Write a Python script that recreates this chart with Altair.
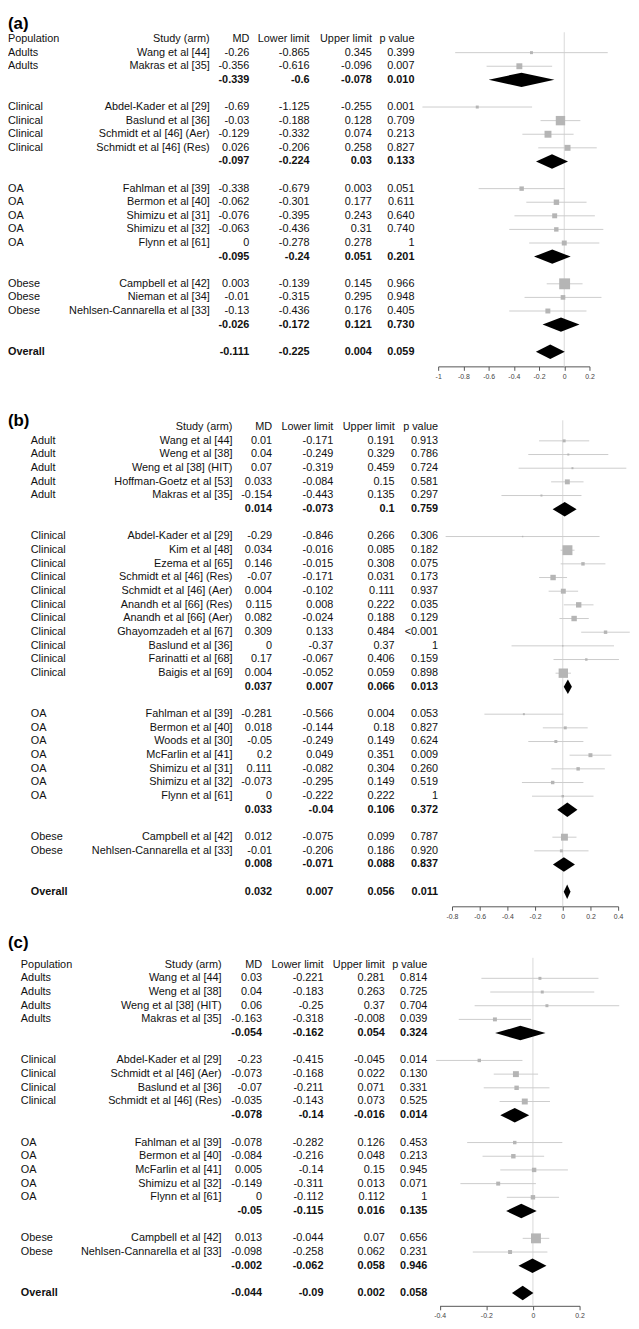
import altair as alt
import pandas as pd

FONT = "Liberation Sans"
TXT = "#111111"
SQ = "#b5b5b5"
CI = "#cccccc"
ZERO = "#d9d9d9"
AX = "#555555"

# ---------------- Panel (a) ----------------
A_POP = ["Adults", "Adults", "Clinical", "Clinical", "Clinical", "Clinical",
         "OA", "OA", "OA", "OA", "OA", "Obese", "Obese", "Obese"]
A_STUDY = ["Wang et al [44]", "Makras et al [35]", "Abdel-Kader et al [29]", "Baslund et al [36]",
           "Schmidt et al [46] (Aer)", "Schmidt et al [46] (Res)", "Fahlman et al [39]",
           "Bermon et al [40]", "Shimizu et al [31]", "Shimizu et al [32]", "Flynn et al [61]",
           "Campbell et al [42]", "Nieman et al [34]", "Nehlsen-Cannarella et al [33]"]
A_MD = ["-0.26", "-0.356", "-0.69", "-0.03", "-0.129", "0.026", "-0.338", "-0.062", "-0.076",
        "-0.063", "0", "0.003", "-0.01", "-0.13"]
A_LO = ["-0.865", "-0.616", "-1.125", "-0.188", "-0.332", "-0.206", "-0.679", "-0.301", "-0.395",
        "-0.436", "-0.278", "-0.139", "-0.315", "-0.436"]
A_HI = ["0.345", "-0.096", "-0.255", "0.128", "0.074", "0.258", "0.003", "0.177", "0.243",
        "0.31", "0.278", "0.145", "0.295", "0.176"]
A_P = ["0.399", "0.007", "0.001", "0.709", "0.213", "0.827", "0.051", "0.611", "0.640",
       "0.740", "1", "0.966", "0.948", "0.405"]
A_W = [9, 36, 9, 90, 49, 36, 20, 30, 25, 20, 25, 121, 22, 25]
A_GROUPS = ["Adults", "Clinical", "OA", "Obese"]
A_POOL_MD = ["-0.339", "-0.097", "-0.095", "-0.026"]
A_POOL_LO = ["-0.6", "-0.224", "-0.24", "-0.172"]
A_POOL_HI = ["-0.078", "0.03", "0.051", "0.121"]
A_POOL_P = ["0.010", "0.133", "0.201", "0.730"]
A_OVERALL = ["-0.111", "-0.225", "0.004", "0.059"]
A_TICKS = [-1, -0.8, -0.6, -0.4, -0.2, 0, 0.2]

# ---------------- Panel (b) ----------------
B_POP = ["Adult"] * 5 + ["Clinical"] * 11 + ["OA"] * 7 + ["Obese"] * 2
B_STUDY = ["Wang et al [44]", "Weng et al [38]", "Weng et al [38] (HIT)", "Hoffman-Goetz et al [53]",
           "Makras et al [35]",
           "Abdel-Kader et al [29]", "Kim et al [48]", "Ezema et al [65]", "Schmidt et al [46] (Res)",
           "Schmidt et al [46] (Aer)", "Anandh et al [66] (Res)", "Anandh et al [66] (Aer)",
           "Ghayomzadeh et al [67]", "Baslund et al [36]", "Farinatti et al [68]", "Baigis et al [69]",
           "Fahlman et al [39]", "Bermon et al [40]", "Woods et al [30]", "McFarlin et al [41]",
           "Shimizu et al [31]", "Shimizu et al [32]", "Flynn et al [61]",
           "Campbell et al [42]", "Nehlsen-Cannarella et al [33]"]
B_MD = ["0.01", "0.04", "0.07", "0.033", "-0.154",
        "-0.29", "0.034", "0.146", "-0.07", "0.004", "0.115", "0.082", "0.309", "0", "0.17", "0.004",
        "-0.281", "0.018", "-0.05", "0.2", "0.111", "-0.073", "0",
        "0.012", "-0.01"]
B_LO = ["-0.171", "-0.249", "-0.319", "-0.084", "-0.443",
        "-0.846", "-0.016", "-0.015", "-0.171", "-0.102", "0.008", "-0.024", "0.133", "-0.37", "-0.067",
        "-0.052",
        "-0.566", "-0.144", "-0.249", "0.049", "-0.082", "-0.295", "-0.222",
        "-0.075", "-0.206"]
B_HI = ["0.191", "0.329", "0.459", "0.15", "0.135",
        "0.266", "0.085", "0.308", "0.031", "0.111", "0.222", "0.188", "0.484", "0.37", "0.406", "0.059",
        "0.004", "0.18", "0.149", "0.351", "0.304", "0.149", "0.222",
        "0.099", "0.186"]
B_P = ["0.913", "0.786", "0.724", "0.581", "0.297",
       "0.306", "0.182", "0.075", "0.173", "0.937", "0.035", "0.129", "<0.001", "1", "0.159", "0.898",
       "0.053", "0.827", "0.624", "0.009", "0.260", "0.519", "1",
       "0.787", "0.920"]
B_W = [9, 4, 4, 25, 4,
       2, 100, 12, 30, 25, 30, 30, 12, 2, 6, 90,
       4, 9, 9, 16, 12, 12, 6,
       49, 9]
B_GROUPS = ["Adult", "Clinical", "OA", "Obese"]
B_POOL_MD = ["0.014", "0.037", "0.033", "0.008"]
B_POOL_LO = ["-0.073", "0.007", "-0.04", "-0.071"]
B_POOL_HI = ["0.1", "0.066", "0.106", "0.088"]
B_POOL_P = ["0.759", "0.013", "0.372", "0.837"]
B_OVERALL = ["0.032", "0.007", "0.056", "0.011"]
B_TICKS = [-0.8, -0.6, -0.4, -0.2, 0, 0.2, 0.4]

# ---------------- Panel (c) ----------------
C_POP = ["Adults"] * 4 + ["Clinical"] * 4 + ["OA"] * 5 + ["Obese"] * 2
C_STUDY = ["Wang et al [44]", "Weng et al [38]", "Weng et al [38] (HIT)", "Makras et al [35]",
           "Abdel-Kader et al [29]", "Schmidt et al [46] (Aer)", "Baslund et al [36]",
           "Schmidt et al [46] (Res)",
           "Fahlman et al [39]", "Bermon et al [40]", "McFarlin et al [41]", "Shimizu et al [32]",
           "Flynn et al [61]",
           "Campbell et al [42]", "Nehlsen-Cannarella et al [33]"]
C_MD = ["0.03", "0.04", "0.06", "-0.163",
        "-0.23", "-0.073", "-0.07", "-0.035",
        "-0.078", "-0.084", "0.005", "-0.149", "0",
        "0.013", "-0.098"]
C_LO = ["-0.221", "-0.183", "-0.25", "-0.318",
        "-0.415", "-0.168", "-0.211", "-0.143",
        "-0.282", "-0.216", "-0.14", "-0.311", "-0.112",
        "-0.044", "-0.258"]
C_HI = ["0.281", "0.263", "0.37", "-0.008",
        "-0.045", "0.022", "0.071", "0.073",
        "0.126", "0.048", "0.15", "0.013", "0.112",
        "0.07", "0.062"]
C_P = ["0.814", "0.725", "0.704", "0.039",
       "0.014", "0.130", "0.331", "0.525",
       "0.453", "0.213", "0.945", "0.071", "1",
       "0.656", "0.231"]
C_W = [9, 9, 9, 16,
       12, 36, 20, 36,
       12, 20, 20, 16, 20,
       100, 16]
C_GROUPS = ["Adults", "Clinical", "OA", "Obese"]
C_POOL_MD = ["-0.054", "-0.078", "-0.05", "-0.002"]
C_POOL_LO = ["-0.162", "-0.14", "-0.115", "-0.062"]
C_POOL_HI = ["0.054", "-0.016", "0.016", "0.058"]
C_POOL_P = ["0.324", "0.014", "0.135", "0.946"]
C_OVERALL = ["-0.044", "-0.09", "0.002", "0.058"]
C_TICKS = [-0.4, -0.2, 0, 0.2]

DIAMOND_HALF = 0.53  # half-height of the pooled diamonds, in rows


def build(pop, study, md, lo, hi, p, w, groups, pmd, plo, phi, pp, overall, header_pop):
    table = [dict(row=0, bold=False, pop=header_pop, study="Study (arm)", md="MD",
                  lo="Lower limit", hi="Upper limit", p="p value")]
    studies, pooled = [], []
    r = 1
    for gi, g in enumerate(groups):
        for i in range(len(pop)):
            if pop[i] != g:
                continue
            table.append(dict(row=r, bold=False, pop=pop[i], study=study[i], md=md[i],
                              lo=lo[i], hi=hi[i], p=p[i]))
            studies.append(dict(row=r, md=float(md[i]), lo=float(lo[i]), hi=float(hi[i]), w=w[i]))
            r += 1
        table.append(dict(row=r, bold=True, pop="", study="", md=pmd[gi], lo=plo[gi],
                          hi=phi[gi], p=pp[gi]))
        pooled.append(dict(row=r, md=float(pmd[gi]), lo=float(plo[gi]), hi=float(phi[gi])))
        r += 2
    table.append(dict(row=r, bold=True, pop="Overall", study="", md=overall[0], lo=overall[1],
                      hi=overall[2], p=overall[3]))
    pooled.append(dict(row=r, md=float(overall[0]), lo=float(overall[1]), hi=float(overall[2])))
    dia = []
    for j, d in enumerate(pooled):
        dia.append(dict(id=j, x=d["lo"], yt=d["row"], yb=d["row"]))
        dia.append(dict(id=j, x=d["md"], yt=d["row"] - DIAMOND_HALF, yb=d["row"] + DIAMOND_HALF))
        dia.append(dict(id=j, x=d["hi"], yt=d["row"], yb=d["row"]))
    return pd.DataFrame(table), pd.DataFrame(studies), pd.DataFrame(dia)


def panel(label, label_row, label_base, data, cols, xdom, xrng, ticks, height, ydom):
    table, studies, dia = data
    yscale = alt.Scale(domain=ydom, reverse=True, nice=False, zero=False)
    xscale = alt.Scale(domain=xdom, range=xrng, nice=False, zero=False)
    axis = alt.Axis(values=ticks, title=None, grid=False, domainColor=AX, tickColor=AX,
                    tickSize=4, labelFontSize=7, labelColor="#444444", labelPadding=2,
                    labelFlush=False, labelOverlap=False, labelFont=FONT,
                    labelExpr="'' + datum.value")

    def Y(f):
        return alt.Y(f, type="quantitative", scale=yscale, axis=None, stack=None)

    def X(f):
        return alt.X(f, type="quantitative", scale=xscale, axis=axis)

    layers = []
    layers.append(
        alt.Chart(pd.DataFrame({"t": [label], "row": [label_row]}))
        .mark_text(align="left", baseline=label_base, font=FONT, fontSize=17,
                   fontWeight="bold", color="black")
        .encode(x=alt.value(0), y=Y("row"), text="t:N")
    )
    for key, xpx, align in cols:
        for bold in (False, True):
            sub = table[table["bold"] == bold][["row", key]]
            layers.append(
                alt.Chart(sub)
                .mark_text(align=align, baseline="middle", font=FONT, fontSize=11,
                           fontWeight="bold" if bold else "normal", color=TXT)
                .encode(x=alt.value(xpx), y=Y("row"), text=f"{key}:N")
            )
    layers.append(
        alt.Chart(pd.DataFrame({"x": [0.0], "y": [-0.5], "y2": [ydom[1]]}))
        .mark_rule(color=ZERO, strokeWidth=1)
        .encode(x=X("x"), y=Y("y"), y2="y2:Q")
    )
    layers.append(
        alt.Chart(studies).mark_rule(color=CI, strokeWidth=1)
        .encode(x=X("lo"), x2="hi:Q", y=Y("row"))
    )
    layers.append(
        alt.Chart(studies).mark_point(shape="square", filled=True, color=SQ, opacity=1,
                                      strokeWidth=0)
        .encode(x=X("md"), y=Y("row"), size=alt.Size("w:Q", scale=None, legend=None))
    )
    layers.append(
        alt.Chart(dia).mark_area(color="black", opacity=1)
        .encode(x=X("x"), y=Y("yt"), y2="yb:Q", detail="id:N")
    )
    return alt.layer(*layers).properties(width=623, height=height)


data_a = build(A_POP, A_STUDY, A_MD, A_LO, A_HI, A_P, A_W, A_GROUPS, A_POOL_MD, A_POOL_LO,
               A_POOL_HI, A_POOL_P, A_OVERALL, "Population")
data_b = build(B_POP, B_STUDY, B_MD, B_LO, B_HI, B_P, B_W, B_GROUPS, B_POOL_MD, B_POOL_LO,
               B_POOL_HI, B_POOL_P, B_OVERALL, "")
data_c = build(C_POP, C_STUDY, C_MD, C_LO, C_HI, C_P, C_W, C_GROUPS, C_POOL_MD, C_POOL_LO,
               C_POOL_HI, C_POOL_P, C_OVERALL, "Population")

cols_a = [("pop", 0, "left"), ("study", 204, "right"), ("md", 244, "right"),
          ("lo", 305, "right"), ("hi", 368, "right"), ("p", 411, "right")]
cols_b = [("pop", 23, "left"), ("study", 227, "right"), ("md", 267, "right"),
          ("lo", 329, "right"), ("hi", 391, "right"), ("p", 435, "right")]
cols_c = [("pop", 13, "left"), ("study", 216, "right"), ("md", 257, "right"),
          ("lo", 319, "right"), ("hi", 381, "right"), ("p", 424, "right")]

pa = panel("(a)", -1.6727, "top", data_a, cols_a, [-1, 0.2], [435, 588], A_TICKS, 354,
           [-1.6727, 24.073])
pb = panel("(b)", -0.47, "middle", data_b, cols_b, [-0.8, 0.4], [449, 617], B_TICKS, 519,
           [-2.496, 35.058])
pc = panel("(c)", -1.59, "middle", data_c, cols_c, [-0.4, 0.2], [436.5, 578], C_TICKS, 377,
           [-2.312, 24.93])

chart = (
    alt.vconcat(pa, pb, pc, spacing=27, bounds="flush")
    .properties(padding=0)
    .configure_view(stroke=None)
)

chart.save("out.html", embed_options={"renderer": "svg", "actions": False})
